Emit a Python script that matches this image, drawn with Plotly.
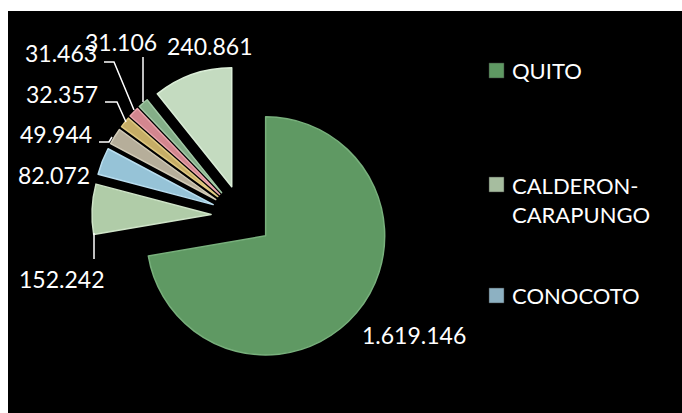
import plotly.graph_objects as go

# Population by parish, Distrito Metropolitano de Quito
parishes = ["QUITO", "CALDERON-CARAPUNGO", "CONOCOTO", "TUMBACO",
            "SAN ANTONIO", "CUMBAYA", "AMAGUAÑA", "OTRAS PARROQUIAS"]
population = [1619146, 152242, 82072, 49944, 32357, 31463, 31106, 240861]
slice_colors = ["#5f9963", "#b0cca8", "#96c3d7", "#b6ae9a",
                "#c6ad66", "#d3868f", "#84ae88", "#c4dbc0"]
edge_colors = ["#78b07c", "#cfe4c8", "#b9def0", "#d2cbb8",
               "#e0c982", "#eaa5ad", "#a2c9a6", "#dbeed8"]
legend_colors = ["#5f9963", "#a6bd9f", "#8db1c2"]
legend_labels = ["QUITO", "CALDERON-<br>CARAPUNGO", "CONOCOTO"]

W, H = 682, 413
FONT = "Lato"


def px(x):
    return x / W


def py(y):
    return 1 - y / H


def fmt(v):
    return f"{v:,}".replace(",", ".")


PULL = 0.26
cx, cy, box = 242.0, 215.9, 300.0

fig = go.Figure()
fig.add_trace(go.Pie(
    labels=parishes,
    values=population,
    sort=False,
    direction="clockwise",
    rotation=0,
    pull=[PULL] * len(population),
    marker=dict(colors=slice_colors, line=dict(width=1.5, color=edge_colors)),
    textinfo="none",
    hoverinfo="label+value",
    showlegend=False,
    domain=dict(x=[px(cx - box / 2), px(cx + box / 2)],
                y=[py(cy + box / 2), py(cy - box / 2)]),
))

shapes = [
    # black chart area inside the white frame
    dict(type="rect", xref="paper", yref="paper", layer="below",
         x0=px(8), x1=1, y0=0, y1=py(11),
         fillcolor="#000000", line=dict(width=0)),
]

# leader lines for the data labels
leaders = [
    [(104, 62), (114, 62), (134, 110)],
    [(143, 57), (143, 102)],
    [(105, 102), (117, 102), (126, 122)],
    [(99, 142), (109, 142), (112, 137)],
    [(94, 233), (94, 259)],
]
for pts in leaders:
    path = "M " + " L ".join(f"{px(x)} {py(y)}" for x, y in pts)
    shapes.append(dict(type="path", xref="paper", yref="paper", path=path,
                       line=dict(color="#ffffff", width=1.5), layer="above"))

# data labels (value text) placed around the pie
label_pos = {
    "QUITO": (414, 335),
    "CALDERON-CARAPUNGO": (61, 279),
    "CONOCOTO": (53.5, 175),
    "TUMBACO": (56, 134.5),
    "SAN ANTONIO": (62, 94),
    "CUMBAYA": (60.5, 53),
    "AMAGUAÑA": (121, 42.5),
    "OTRAS PARROQUIAS": (209, 46),
}
annotations = []
for name, val in zip(parishes, population):
    x, y = label_pos[name]
    annotations.append(dict(
        x=px(x), y=py(y), xref="paper", yref="paper",
        text=fmt(val), showarrow=False, xanchor="center", yanchor="middle",
        font=dict(family=FONT, size=23, color="#ffffff")))

# legend: first three entries
legend_rows = [70.5, 184.5, 295.5]
for lab, col, yc in zip(legend_labels, legend_colors, legend_rows):
    shapes.append(dict(type="rect", xref="paper", yref="paper", layer="above",
                       x0=px(489), x1=px(504), y0=py(yc + 7.5), y1=py(yc - 7.5),
                       fillcolor=col, line=dict(color="#3a3a3a", width=0.5)))
    lines = lab.count("<br>")
    annotations.append(dict(
        x=px(510), y=py(yc + lines * 15.25), xref="paper", yref="paper",
        text=lab, showarrow=False, xanchor="left", yanchor="middle",
        align="left",
        font=dict(family=FONT, size=22, color="#ffffff")))

fig.update_layout(
    width=W, height=H, autosize=False,
    margin=dict(l=0, r=0, t=0, b=0),
    paper_bgcolor="#ffffff",
    plot_bgcolor="#000000",
    shapes=shapes,
    annotations=annotations,
)

fig.write_html("out.html")
